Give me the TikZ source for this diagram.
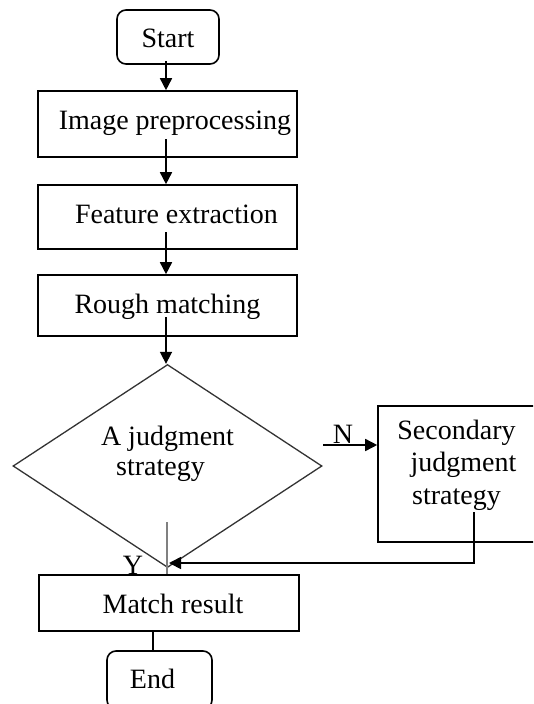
\documentclass[tikz,border=0pt]{standalone}
\usepackage{fontspec}
\setmainfont{Liberation Serif}
\usetikzlibrary{arrows.meta,shapes.geometric}
\tikzset{
  base/.style={draw=black, line width=1.6pt, inner sep=0pt, font=\fontsize{28}{32}\selectfont},
  box/.style={base, rectangle},
  term/.style={base, rectangle, rounded corners=9pt},
  arr/.style={line width=1.6pt, -{Triangle[width=12pt,length=12pt]}},
  plain/.style={line width=1.6pt},
  lab/.style={inner sep=0pt, font=\fontsize{28}{32}\selectfont}
}
\begin{document}
\begin{tikzpicture}[x=1pt,y=-1pt]
\clip (0,0) rectangle (533,704);
\fill[white] (0,0) rectangle (533,704);

\node[term, minimum width=102pt, minimum height=54pt, text height=21pt, text depth=1pt] (start) at (168,37) {Start};
\node[box, minimum width=259pt, minimum height=66pt, text height=19pt, text depth=9pt] (img) at (167.5,124) {\hspace*{15pt}Image preprocessing};
\node[box, minimum width=259pt, minimum height=64pt, text height=19pt, text depth=7pt] (feat) at (167.5,217) {\hspace*{18pt}Feature extraction};
\node[box, minimum width=259pt, minimum height=61pt, text height=19pt, text depth=4pt] (rough) at (167.5,305.5) {Rough matching};
\node[base, diamond, draw=black!80, line width=1.3pt, minimum width=309pt, minimum height=203pt, align=center, font=\fontsize{28}{30}\selectfont, text height=24pt, text depth=6pt] (dia) at (167.5,466) {A judgment\\strategy\hspace*{14pt}};
\node[box, minimum width=157pt, minimum height=136pt, align=center, font=\fontsize{28}{32.5}\selectfont, text height=66pt, text depth=6pt] (sec) at (456.5,474) {Secondary\\\hspace*{14pt}judgment\\strategy};
\node[box, minimum width=260pt, minimum height=56pt, text height=21pt, text depth=1pt] (res) at (169,603) {\hspace*{8pt}Match result};
\node[term, minimum width=105pt, minimum height=58pt, text height=19pt, text depth=3pt] (endn) at (159.5,680) {End\hspace*{14pt}};

\node[lab] (nlab) at (343,434) {N};
\node[lab] (ylab) at (133,565) {Y};

\coordinate (s1) at (166,61);
\coordinate (s2) at (166,139);
\coordinate (s3) at (166,232);
\coordinate (s4) at (166,317);
\coordinate (nst) at (323,445);
\coordinate (g1) at (167,522);
\coordinate (r1) at (474,512);
\coordinate (rt) at (169,563);
\coordinate (e1) at (153,631);

\draw[arr] (s1) -- (s1 |- img.north);
\draw[arr] (s2) -- (s2 |- feat.north);
\draw[arr] (s3) -- (s3 |- rough.north);
\draw[arr] (s4) -- (s4 |- dia.north);
\draw[arr] (nst) -- (nst -| sec.west);
\draw[gray, line width=2pt] (g1) -- (g1 |- res.north);
\draw[arr] (r1) -- (r1 |- rt) -- (rt);
\draw[plain] (e1 |- res.south) -- (e1 |- endn.north);
\end{tikzpicture}
\end{document}
